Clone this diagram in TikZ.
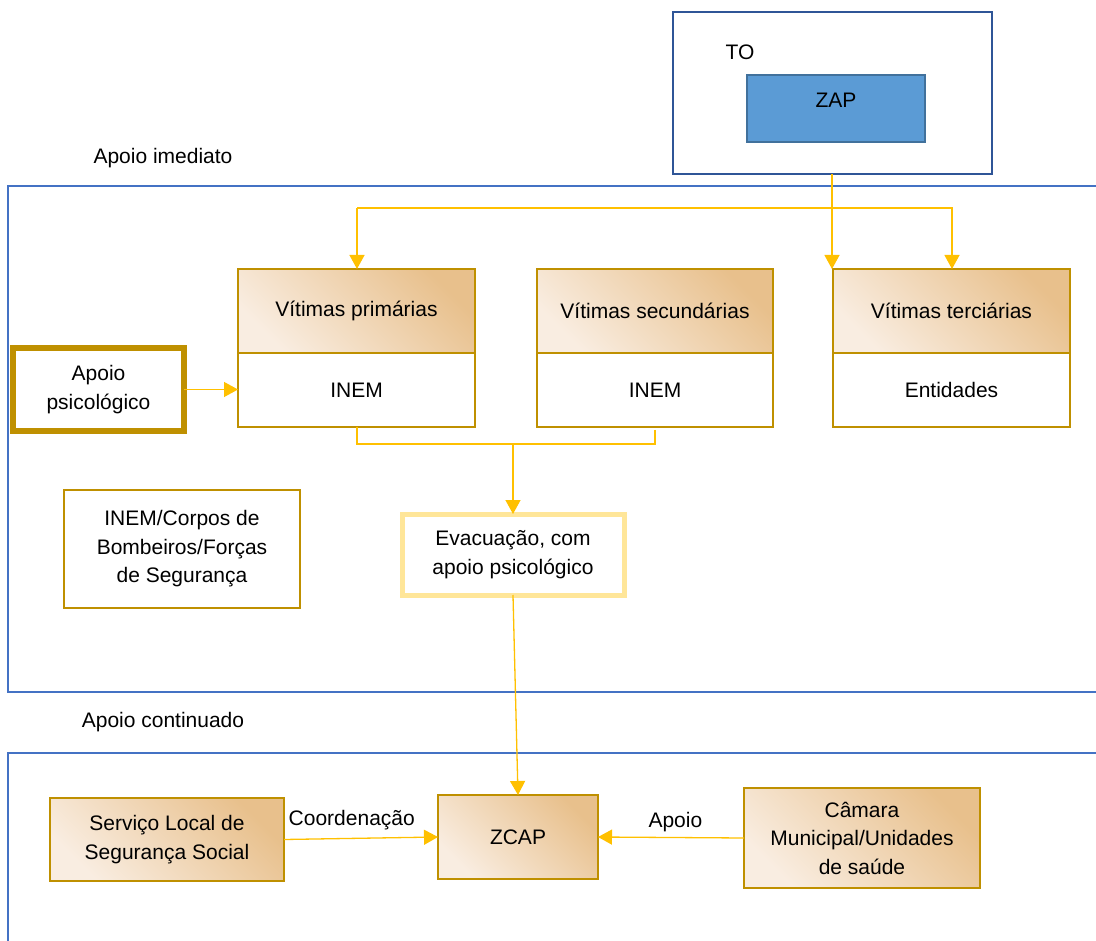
\documentclass[tikz,border=0pt]{standalone}
\usepackage{fontspec}
\setmainfont{Liberation Sans}
\usetikzlibrary{arrows.meta}
\definecolor{gold}{RGB}{191,144,0}
\definecolor{conny}{RGB}{255,192,0}
\definecolor{framebl}{RGB}{68,114,196}
\definecolor{tobl}{RGB}{47,85,151}
\definecolor{zapfill}{RGB}{91,155,213}
\definecolor{zapdraw}{RGB}{65,113,156}
\definecolor{hdark}{RGB}{232,192,140}
\definecolor{hlight}{RGB}{249,237,225}
\definecolor{evay}{RGB}{255,230,153}
\begin{document}
\begin{tikzpicture}[x=1pt,y=-1pt,
  every node/.style={font=\fontsize{21}{28.5}\selectfont, align=center, inner sep=0pt, outer sep=0pt},
  box/.style={draw=gold, line width=2.5pt, anchor=north west},
  hdr/.style={box, top color=hdark, bottom color=hlight, shading angle=-45},
  conn/.style={draw=conny, line width=1.3pt},
  tip/.style={-{Triangle[length=14pt,width=15pt]}},
  frame/.style={draw=framebl, line width=2.5pt}]
\useasboundingbox (0,0) rectangle (1096,941);

% frames
\draw[frame] (1100,186) -- (8,186) -- (8,692) -- (1100,692);
\draw[frame] (1100,753) -- (8,753) -- (8,945);
\node (lbl1) at (163,158) {Apoio imediato};
\node (lbl2) at (163,722) {Apoio continuado};

% TO / ZAP
\node[draw=tobl, line width=2.5pt, anchor=north west, minimum width=319pt, minimum height=162pt] (to) at (673,12) {};
\node (tolbl) at (740,52) {TO};
\node[draw=zapdraw, fill=zapfill, line width=2pt, anchor=north west, minimum width=178pt, minimum height=67pt, text depth=17pt] (zap) at (747,75) {ZAP};

% victim boxes
\node[hdr, minimum width=237pt, minimum height=84pt] (vph) at (238,269) {Vítimas primárias};
\node[box, minimum width=237pt, minimum height=74pt] (vpb) at (238,353) {INEM};
\node[hdr, minimum width=236pt, minimum height=84pt] (vsh) at (537,269) {Vítimas secundárias};
\node[box, minimum width=236pt, minimum height=74pt] (vsb) at (537,353) {INEM};
\node[hdr, minimum width=237pt, minimum height=84pt] (vth) at (833,269) {Vítimas terciárias};
\node[box, minimum width=237pt, minimum height=74pt] (vtb) at (833,353) {Entidades};

% left boxes
\node[box, line width=6pt, minimum width=171pt, minimum height=83pt] (ap) at (13,348) {Apoio\\psicológico};
\node[box, minimum width=236pt, minimum height=118pt] (inem) at (64,490) {INEM/Corpos de\\Bombeiros/Forças\\de Segurança};
\node[box, draw=evay, line width=5pt, minimum width=222pt, minimum height=81pt] (ev) at (402,514) {Evacuação, com\\apoio psicológico};

% bottom row
\node[hdr, minimum width=234pt, minimum height=83pt] (sl) at (50,798) {Serviço Local de\\Segurança Social};
\node[hdr, minimum width=160pt, minimum height=84pt] (zcap) at (438,795) {ZCAP};
\node[hdr, minimum width=236pt, minimum height=100pt] (cm) at (744,788) {Câmara\\Municipal/Unidades\\de saúde};

% connectors
\coordinate (tl) at (357,208);
\coordinate (tr) at (953,208);
\draw[conn] (tl) -- (tr);
\draw[conn,tip] (tl) -- (tl |- vph.north);
\draw[conn,tip] (952,208) -- (952,269);
\draw[conn,tip] (to.south -| 832,0) -- (832,269);
\draw[conn,tip] (ap.east) -- (ap.east -| vpb.west);

\coordinate (jl) at (357,444);
\coordinate (jr) at (656,444);
\coordinate (js) at (655,430);
\coordinate (jm) at (513,444);
\draw[conn] (vpb.south -| jl) -- (jl) -- (jr);
\draw[conn] (js) -- (655,444);
\draw[conn,tip] (jm) -- (jm |- ev.north);
\draw[conn,tip] (ev.south) -- (zcap.north);

\draw[conn,tip] (sl.east) -- node[pos=0.44, above=8pt] {Coordenação} (zcap.west);
\draw[conn,tip] (cm.west) -- node[pos=0.47, above=6pt] {Apoio} (zcap.east);
\end{tikzpicture}
\end{document}
